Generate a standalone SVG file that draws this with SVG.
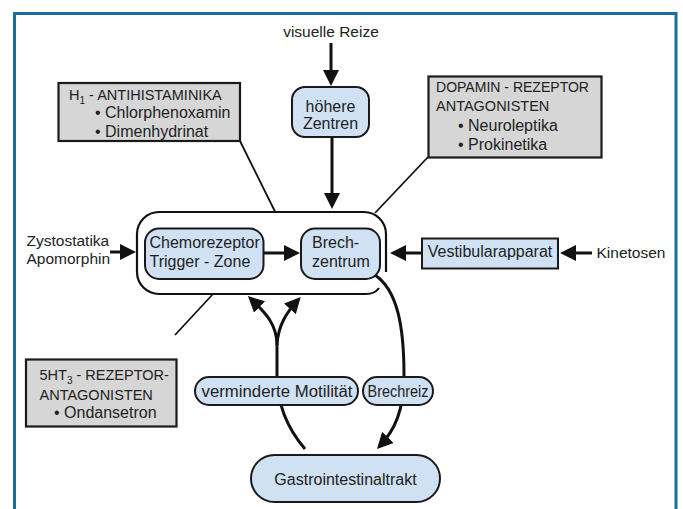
<svg xmlns="http://www.w3.org/2000/svg" width="683" height="509" viewBox="0 0 683 509">
<defs>
<style>
text{font-family:"Liberation Sans",Arial,sans-serif;fill:#222;font-size:16px}
.caps{font-size:14.5px}
.lbl{font-size:15.5px}
.mid{text-anchor:middle}
.blue{fill:#cfe1f3;stroke:#1a1a1a;stroke-width:2}
.gray{fill:#d6d6d6;stroke:#1a1a1a;stroke-width:2.2}
.arr{fill:none;stroke:#111;stroke-width:3;marker-end:url(#ah)}
.thin{fill:none;stroke:#111;stroke-width:1.8}
</style>
<marker id="ah" markerUnits="userSpaceOnUse" markerWidth="16" markerHeight="16" viewBox="0 0 16 16" refX="12" refY="8" orient="auto">
<path d="M0,0 L16,8 L0,16 z" fill="#111"/>
</marker>
</defs>
<rect x="14.5" y="13.5" width="661.5" height="530" fill="#fff" stroke="#1b6d9e" stroke-width="3"/>

<g id="connectors">
<line class="arr" x1="331" y1="43" x2="331" y2="82"/>
<line class="arr" x1="332" y1="137" x2="332" y2="205"/>
<line class="arr" x1="110" y1="252" x2="132" y2="252"/>
<line class="arr" x1="263" y1="253" x2="296" y2="253"/>
<line class="arr" x1="422" y1="253" x2="394" y2="253"/>
<line class="arr" x1="592" y1="253" x2="564" y2="253"/>
<line class="thin" x1="240" y1="141" x2="275" y2="211.5"/>
<line class="thin" x1="428" y1="157" x2="375" y2="213"/>
<line class="thin" x1="175" y1="335" x2="213" y2="294"/>
<path class="arr" d="M277,345 C277,325 266,313 250.8,298.8"/>
<path class="arr" d="M277,345 C278,325 287,312 298,300"/>
<path fill="none" stroke="#111" stroke-width="3" d="M305,449 C287,428 277,405 277,375 L277,345"/>
<path class="arr" d="M375,275 C397,290 404,325 404,375 C404,410 395,430 379.7,446.1"/>
</g>

<g id="container">
<path fill="none" stroke="#111" stroke-width="2.2" d="M386,272 L386,234 A22,22 0 0 0 364,212 L159,212 A22,22 0 0 0 137,234 L137,272 A22,22 0 0 0 159,294 L366,294 Q375,294 379,288"/>
</g>

<g id="visuelle-reize"><text class="lbl mid" x="331" y="37">visuelle Reize</text></g>

<g id="hoehere-zentren">
<rect class="blue" x="292" y="87" width="77" height="50" rx="13"/>
<text class="mid" x="330.5" y="112">höhere</text>
<text class="mid" x="330.5" y="129">Zentren</text>
</g>

<g id="h1-antihistaminika">
<rect class="gray" x="58.5" y="83" width="181.5" height="58"/>
<text class="caps" x="69" y="100">H<tspan font-size="10" dy="4">1</tspan><tspan dy="-4"> - ANTIHISTAMINIKA</tspan></text>
<text x="95" y="118">• Chlorphenoxamin</text>
<text x="95" y="136.5">• Dimenhydrinat</text>
</g>

<g id="dopamin">
<rect class="gray" x="428.5" y="76.5" width="173" height="81"/>
<text class="caps" x="436" y="91.5" textLength="153" lengthAdjust="spacingAndGlyphs">DOPAMIN - REZEPTOR</text>
<text class="caps" x="436" y="110.5">ANTAGONISTEN</text>
<text x="458" y="130.5">• Neuroleptika</text>
<text x="458" y="150">• Prokinetika</text>
</g>

<g id="zystostatika">
<text class="lbl" x="26.5" y="246">Zystostatika</text>
<text class="lbl" x="26.5" y="264">Apomorphin</text>
</g>

<g id="chemorezeptor">
<rect class="blue" x="145" y="228.5" width="118.5" height="50.5" rx="14"/>
<text x="149.5" y="248.3">Chemorezeptor</text>
<text x="149.5" y="266.7">Trigger - Zone</text>
</g>

<g id="brechzentrum">
<rect class="blue" x="301" y="228.5" width="79" height="50.5" rx="14"/>
<text x="312" y="248.3">Brech-</text>
<text x="312" y="266.7">zentrum</text>
</g>

<g id="vestibularapparat">
<rect class="blue" x="422" y="238.5" width="136" height="30"/>
<text class="mid" x="490" y="257.3">Vestibularapparat</text>
</g>

<g id="kinetosen"><text class="lbl" x="596.5" y="257.5">Kinetosen</text></g>

<g id="5ht3">
<rect class="gray" x="26" y="359.5" width="150.5" height="67"/>
<text class="caps" x="39.5" y="380">5HT<tspan font-size="10" dy="4">3</tspan><tspan dy="-4"> - REZEPTOR-</tspan></text>
<text class="caps" x="39.5" y="400">ANTAGONISTEN</text>
<text x="54" y="418.3">• Ondansetron</text>
</g>

<g id="verminderte-motilitaet">
<rect class="blue" x="195" y="377" width="163" height="28" rx="14"/>
<text class="mid" x="277" y="396.5" textLength="151" lengthAdjust="spacingAndGlyphs">verminderte Motilität</text>
</g>

<g id="brechreiz">
<rect class="blue" x="363" y="377" width="70" height="28" rx="14"/>
<text class="mid" x="398" y="396.5" textLength="61" lengthAdjust="spacingAndGlyphs">Brechreiz</text>
</g>

<g id="gastrointestinaltrakt">
<rect class="blue" x="251" y="455" width="189" height="47" rx="23.5"/>
<text class="mid" x="345.5" y="485">Gastrointestinaltrakt</text>
</g>
</svg>
